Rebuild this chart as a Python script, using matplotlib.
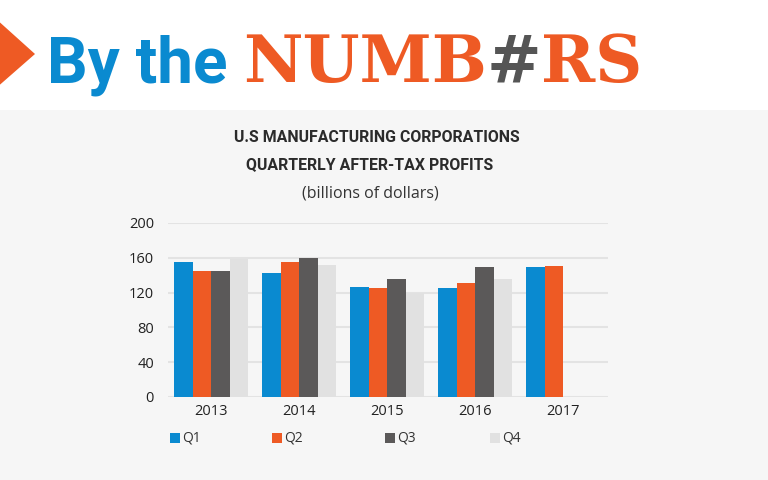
import numpy as np
from matplotlib import pyplot as plt
from matplotlib.patches import Polygon, Rectangle

years = ["2013", "2014", "2015", "2016", "2017"]
quarters = ["Q1", "Q2", "Q3", "Q4"]
q1 = [155, 143, 127, 125, 149]
q2 = [145, 155, 125, 131, 151]
q3 = [145, 160, 136, 149, np.nan]
q4 = [159, 152, 120, 136, np.nan]
colors = ["#0a8ad0", "#ee5a24", "#5b5959", "#e1e1e1"]
yticks = [0, 40, 80, 120, 160, 200]

W, H = 768, 480
fig = plt.figure(figsize=(W / 100, H / 100), dpi=100, facecolor="white")

# gray panel below the header
fig.patches.append(Rectangle((0, 0), 1, (H - 110) / H, transform=fig.transFigure,
                             facecolor="#f6f6f6", edgecolor="none", zorder=-10))

# header
fig.patches.append(Polygon([(-5 / W, 1 - 18 / H), (35 / W, 1 - 54 / H), (-5 / W, 1 - 89 / H)],
                           closed=True, transform=fig.transFigure,
                           facecolor="#ee5a24", edgecolor="none"))
fig.text(47 / W, 1 - 82 / H, "By the", color="#0a8ad0", fontsize=46, fontweight="bold",
         family="Roboto", ha="left", va="baseline")
slab = dict(fontsize=47, fontweight="bold", family="DejaVu Serif", ha="left", va="baseline")
t1 = fig.text(243 / W, 1 - 82 / H, "NUMB", color="#ee5a24", **slab)
fig.canvas.draw()
bb = t1.get_window_extent()
t2 = fig.text(bb.x1 / W, 1 - 82 / H, "#", color="#555555", style="italic", **slab)
fig.canvas.draw()
bb = t2.get_window_extent()
fig.text(bb.x1 / W, 1 - 82 / H, "RS", color="#ee5a24", **slab)

# chart titles
cond = dict(fontweight="bold", family="Roboto", color="#2b2b2b", fontsize=11.4,
            ha="center", va="center")
fig.text(377 / W, 1 - 137 / H, "U.S MANUFACTURING CORPORATIONS", **cond)
fig.text(370 / W, 1 - 165 / H, "QUARTERLY AFTER-TAX PROFITS", **cond)
fig.text(370 / W, 1 - 194 / H, "(billions of dollars)", color="#333333",
         fontsize=11.5, ha="center", va="center", family="Open Sans")

ax = fig.add_axes([168 / W, (H - 397) / H, (608 - 168) / W, (397 - 223) / H])
ax.set_facecolor("#f6f6f6")
x = np.arange(len(years))
bw = 0.21
for i, (vals, c) in enumerate(zip([q1, q2, q3, q4], colors)):
    ax.bar(x + (i - 1.5) * bw, vals, bw, color=c, zorder=3, label=quarters[i])

ax.set_xlim(-0.49, 4.51)
ax.set_ylim(0, 200)
ax.set_yticks(yticks)
ax.set_xticks(x)
ax.set_xticklabels(years)
ax.grid(axis="y", color="#e3e3e3", linewidth=1.5, zorder=0)
for s in ax.spines.values():
    s.set_visible(False)
ax.tick_params(length=0, labelsize=10.5, colors="#222222")
ax.tick_params(axis="y", pad=10)
ax.tick_params(axis="x", pad=5)
for lab in ax.get_xticklabels() + ax.get_yticklabels():
    lab.set_family("Open Sans")

# legend
lx = [170, 272, 385, 490]
for q, c, px in zip(quarters, colors, lx):
    fig.patches.append(Rectangle((px / W, 1 - 443 / H), 10 / W, 10 / H, transform=fig.transFigure,
                                 facecolor=c, edgecolor="none"))
    fig.text((px + 12) / W, 1 - 438 / H, q, fontsize=10, color="#333333",
             family="Open Sans", ha="left", va="center")

fig.savefig("out.png", dpi=100, facecolor=fig.get_facecolor())
